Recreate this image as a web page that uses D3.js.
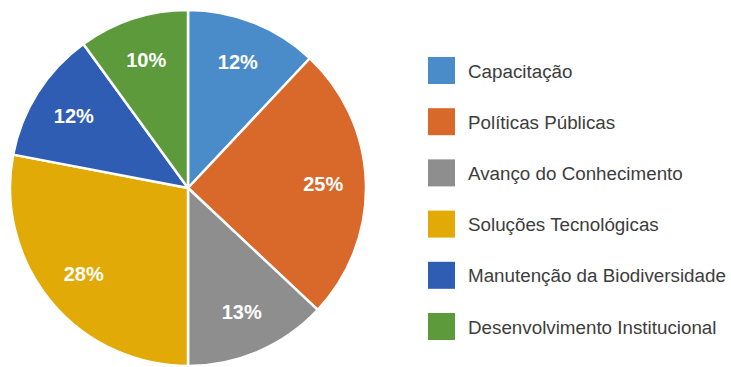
<!DOCTYPE html>
<html>
<head>
<meta charset="utf-8">
<script src="https://cdn.jsdelivr.net/npm/d3@7"></script>
<style>
  body { margin: 0; background: #fff; }
  svg { display: block; }
</style>
</head>
<body>
<svg id="chart"></svg>
<script>
const categories = ["Capacitação", "Políticas Públicas", "Avanço do Conhecimento",
  "Soluções Tecnológicas", "Manutenção da Biodiversidade", "Desenvolvimento Institucional"];
const values = [12, 25, 13, 28, 12, 10];
const colors = ["#4a8bc9", "#d9682b", "#8e8e8e", "#e2aa06", "#2e5db3", "#5d9a3c"];

const width = 731, height = 367;
const cx = 188, cy = 188, radius = 178;

const svg = d3.select("#chart")
  .attr("width", width)
  .attr("height", height);

const color = d3.scaleOrdinal().domain(categories).range(colors);

const pie = d3.pie().sort(null).value(d => d.v);
const data = categories.map((c, i) => ({ c: c, v: values[i] }));
const arcs = pie(data);

const arc = d3.arc().innerRadius(0).outerRadius(radius);
const labelArc = d3.arc().innerRadius(radius * 0.76).outerRadius(radius * 0.76);

const g = svg.append("g").attr("transform", `translate(${cx},${cy})`);

g.selectAll("path")
  .data(arcs)
  .join("path")
  .attr("d", arc)
  .attr("fill", d => color(d.data.c))
  .attr("stroke", "#fff")
  .attr("stroke-width", 2.5)
  .attr("stroke-linejoin", "round");

g.selectAll("text")
  .data(arcs)
  .join("text")
  .attr("transform", d => `translate(${labelArc.centroid(d)})`)
  .attr("text-anchor", "middle")
  .attr("dy", "0.36em")
  .attr("fill", "#fff")
  .attr("font-family", "Liberation Sans, Arial, sans-serif")
  .attr("font-weight", "bold")
  .attr("font-size", 20)
  .text(d => d.data.v + "%");

// legend
const legend = svg.append("g").attr("transform", "translate(428,57)");
const rows = legend.selectAll("g")
  .data(categories)
  .join("g")
  .attr("transform", (d, i) => `translate(0,${i * 51.2})`);

rows.append("rect")
  .attr("width", 27)
  .attr("height", 27)
  .attr("fill", d => color(d));

rows.append("text")
  .attr("x", 40)
  .attr("y", 14)
  .attr("dy", "0.35em")
  .attr("fill", "#3d3d3d")
  .attr("font-family", "Liberation Sans, Arial, sans-serif")
  .attr("font-size", 18.8)
  .text(d => d);
</script>
</body>
</html>
